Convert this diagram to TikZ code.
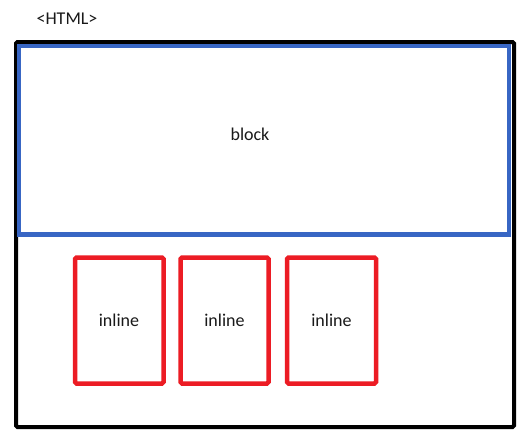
\documentclass[tikz,border=0pt]{standalone}
\usepackage{fontspec}
\setmainfont{Carlito}
\definecolor{blockblue}{RGB}{56,102,196}
\definecolor{inlinered}{RGB}{236,28,36}
\definecolor{labeltext}{RGB}{25,25,25}
\begin{document}
\begin{tikzpicture}[x=1pt,y=-1pt,
  htmlbox/.style={draw=black,line width=4pt,rounded corners=1.5pt},
  blockbox/.style={draw=blockblue,line width=4.5pt},
  inlinebox/.style={draw=inlinered,line width=4.5pt,rounded corners=1.5pt},
  lbl/.style={font=\fontsize{18}{20}\selectfont,text=labeltext,inner sep=0pt}]
\useasboundingbox[fill=white] (0,0) rectangle (528,442);
% page element
\draw[htmlbox] (16,42) rectangle (514,427);
\node[lbl] (html) at (67,19) {<HTML>};
% block-level child
\draw[blockbox] (19,46) rectangle (509,234.5);
\node[lbl] (block) at (250,134) {block};
% inline children
\draw[inlinebox] (75,257.5) rectangle (163.5,383.5);
\draw[inlinebox] (180.5,257.5) rectangle (268.5,383.5);
\draw[inlinebox] (287,257.5) rectangle (376,383.5);
\node[lbl] (in1) at (119,320) {inline};
\node[lbl] (in2) at (224.5,320) {inline};
\node[lbl] (in3) at (331.5,320) {inline};
\end{tikzpicture}
\end{document}
